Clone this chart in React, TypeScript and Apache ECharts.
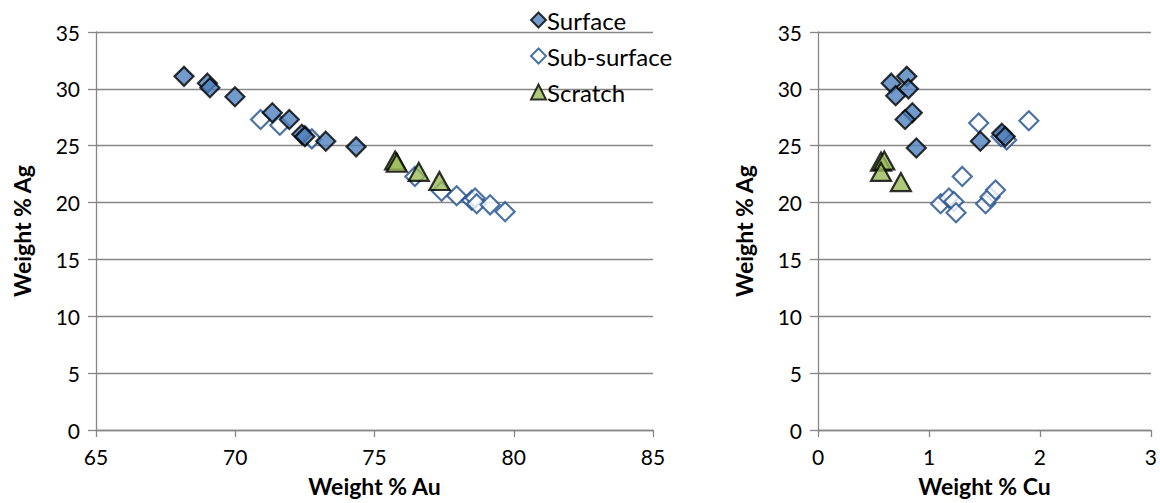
import React, { useEffect, useRef } from "react";
import * as echarts from "echarts";

// Left panel: Weight % Au vs Weight % Ag
const surfaceAu = [68.16, 69.0, 69.09, 69.99, 71.33, 71.94, 72.39, 72.5, 73.25, 74.34];
const surfaceAgL = [31.1, 30.5, 30.1, 29.3, 27.9, 27.3, 26.0, 25.8, 25.4, 24.9];
const subAu = [70.91, 71.6, 72.5, 72.75, 76.45, 77.41, 77.95, 78.49, 78.61, 78.67, 79.15, 79.69];
const subAgL = [27.3, 26.8, 25.9, 25.6, 22.3, 21.0, 20.6, 20.2, 20.4, 19.9, 19.8, 19.2];
const scratchAu = [75.74, 75.8, 76.59, 77.33];
const scratchAgL = [23.7, 23.5, 22.7, 21.9];

// Right panel: Weight % Cu vs Weight % Ag
const surfaceCu = [0.66, 0.8, 0.815, 0.7, 0.85, 0.785, 0.886, 1.463, 1.656, 1.687];
const surfaceAgR = [30.5, 31.1, 30.0, 29.4, 27.9, 27.3, 24.8, 25.4, 26.1, 25.8];
const subCu = [1.448, 1.9, 1.7, 1.65, 1.3, 1.105, 1.18, 1.224, 1.244, 1.51, 1.55, 1.6];
const subAgR = [27.0, 27.2, 25.5, 25.8, 22.3, 19.9, 20.4, 20.1, 19.1, 19.9, 20.5, 21.1];
const scratchCu = [0.568, 0.597, 0.568, 0.747];
const scratchAgR = [23.6, 23.7, 22.7, 21.8];

const seriesNames = ["Surface", "Sub-surface", "Scratch"];
const auTicks = { min: 65, max: 85, interval: 5 };
const cuTicks = { min: 0, max: 3, interval: 1 };
const agTicks = { min: 0, max: 35, interval: 5 };

const pair = (xs: number[], ys: number[]) => xs.map((x, i) => [x, ys[i]]);

const FONT = "Lato, 'Open Sans', sans-serif";
const GRAY = "#868686";

export default function App() {
  const ref = useRef<HTMLDivElement>(null);
  useEffect(() => {
    document.body.style.margin = "0";
    const chart = echarts.init(ref.current!, undefined, { renderer: "svg" });

    const xAxisBase = (name: string, t: any, gridIndex: number) => ({
      type: "value",
      gridIndex,
      min: t.min,
      max: t.max,
      interval: t.interval,
      name,
      nameLocation: "middle",
      nameGap: 44,
      nameTextStyle: { fontFamily: FONT, fontSize: 23, fontWeight: "bold", color: "#000" },
      axisLine: { show: true, onZero: false, lineStyle: { color: GRAY, width: 1.3 } },
      axisTick: { show: true, inside: false, length: 7, lineStyle: { color: GRAY, width: 1.3 } },
      axisLabel: { fontFamily: FONT, fontSize: 21, color: "#000", margin: 16 },
      splitLine: { show: false },
    });
    const yAxisBase = (gridIndex: number) => ({
      type: "value",
      gridIndex,
      min: agTicks.min,
      max: agTicks.max,
      interval: agTicks.interval,
      name: "Weight % Ag",
      nameLocation: "middle",
      nameGap: 63,
      nameRotate: 90,
      nameTextStyle: { fontFamily: FONT, fontSize: 23, fontWeight: "bold", color: "#000" },
      axisLine: { show: true, onZero: false, lineStyle: { color: GRAY, width: 1.3 } },
      axisTick: { show: true, inside: false, length: 8, lineStyle: { color: GRAY, width: 1.3 } },
      axisLabel: { fontFamily: FONT, fontSize: 21, color: "#000", margin: 16 },
      splitLine: { show: true, lineStyle: { color: GRAY, width: 1.3 } },
    });

    const surfStyle = { color: "#4f81bd", borderColor: "#000", borderWidth: 2.2 };
    const subStyle = { color: "#ffffff", borderColor: "#1f4e8c", borderWidth: 2.2 };
    const scrStyle = { color: "#9bbb59", borderColor: "#000", borderWidth: 2.2 };

    const mk = (name: string, data: number[][], idx: number, symbol: string, size: any, style: any, z: number) => ({
      type: "scatter",
      name,
      xAxisIndex: idx,
      yAxisIndex: idx,
      data,
      symbol,
      symbolSize: size,
      itemStyle: style,
      z,
      emphasis: { disabled: true },
    });

    chart.setOption({
      animation: false,
      textStyle: { fontFamily: FONT },
      legend: {
        data: seriesNames,
        orient: "vertical",
        left: 525,
        top: 3,
        itemGap: 12,
        itemWidth: 15,
        itemHeight: 15,
        textStyle: { fontFamily: FONT, fontSize: 24, color: "#000", padding: [0, 0, 0, -4] },
        selectedMode: false,
      },
      grid: [
        { left: 96, top: 32, width: 557, height: 398 },
        { left: 818, top: 32, width: 335, height: 398 },
      ],
      xAxis: [xAxisBase("Weight % Au", auTicks, 0), xAxisBase("Weight % Cu", cuTicks, 1)],
      yAxis: [yAxisBase(0), yAxisBase(1)],
      series: [
        mk("Sub-surface", pair(subAu, subAgL), 0, "diamond", 19, subStyle, 2),
        mk("Surface", pair(surfaceAu, surfaceAgL), 0, "diamond", 19, surfStyle, 3),
        mk("Scratch", pair(scratchAu, scratchAgL), 0, "triangle", [20, 18], scrStyle, 4),
        mk("Sub-surface", pair(subCu, subAgR), 1, "diamond", 19, subStyle, 2),
        mk("Surface", pair(surfaceCu, surfaceAgR), 1, "diamond", 19, surfStyle, 3),
        mk("Scratch", pair(scratchCu, scratchAgR), 1, "triangle", [20, 18], scrStyle, 4),
      ],
    });
    return () => chart.dispose();
  }, []);
  return <div ref={ref} style={{ position: "absolute", left: 0, top: 0, width: 1160, height: 503 }} />;
}
